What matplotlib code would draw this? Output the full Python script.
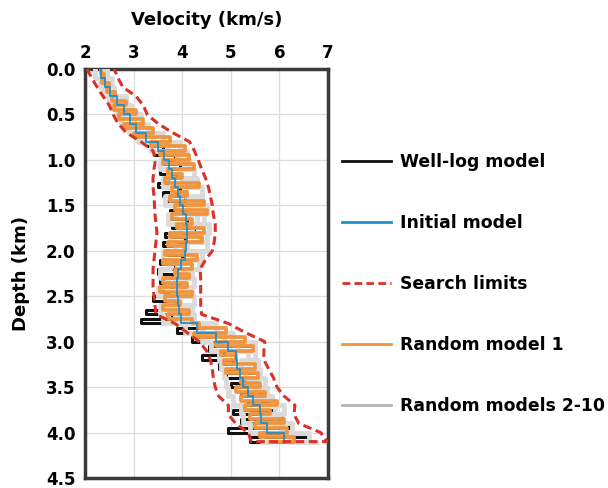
import numpy as np
import matplotlib
matplotlib.use("Agg")
import matplotlib.pyplot as plt
from matplotlib.lines import Line2D

plt.rcParams['font.family'] = ['DejaVu Sans']
plt.rcParams['font.weight'] = 'bold'

# depth grids (km)
z_fine = np.round(np.arange(0.0, 4.101, 0.05), 2)   # 83 layers
z_coarse = np.round(np.arange(0.0, 4.101, 0.1), 1)  # 42 layers
z_log = np.round(np.arange(0.80, 4.101, 0.05), 2)   # well log starts at 0.8 km

# search limits (km/s), on z_coarse
lower_lim = [2.04, 2.14, 2.25, 2.37, 2.50, 2.58, 2.68, 2.85, 3.15, 3.40,
             3.45, 3.42, 3.40, 3.40, 3.42, 3.43, 3.44, 3.46, 3.48, 3.46,
             3.44, 3.42, 3.40, 3.40, 3.40, 3.42, 3.44, 3.46, 3.85, 4.10,
             4.35, 4.50, 4.58, 4.62, 4.64, 4.68, 4.75, 4.95, 4.95, 5.10,
             5.36, 5.42]
upper_lim = [2.60, 2.68, 2.78, 3.05, 3.20, 3.28, 3.50, 3.80, 4.15, 4.25,
             4.33, 4.40, 4.48, 4.54, 4.58, 4.62, 4.64, 4.68, 4.68, 4.66,
             4.62, 4.48, 4.37, 4.38, 4.38, 4.38, 4.38, 4.40, 4.95, 5.30,
             5.70, 5.68, 5.68, 5.78, 5.88, 5.95, 6.10, 6.32, 6.30, 6.40,
             6.85, 6.98]

# initial model, on z_coarse
initial = [2.32, 2.42, 2.52, 2.65, 2.80, 2.92, 3.05, 3.25, 3.50, 3.62,
           3.72, 3.80, 3.85, 3.92, 3.96, 4.02, 4.08, 4.10, 4.10, 4.08,
           4.05, 3.98, 3.92, 3.90, 3.90, 3.92, 3.94, 3.98, 4.30, 4.70,
           4.95, 5.10, 5.12, 5.18, 5.25, 5.35, 5.45, 5.60, 5.62, 5.75,
           6.10, 6.20]

# well-log model, on z_log
well_log = [3.30, 3.60, 3.45, 3.85, 3.60, 3.95, 3.55, 3.90, 3.70, 3.50,
            3.95, 3.60, 4.05, 3.65, 4.15, 3.75, 3.70, 4.10, 3.80, 4.25,
            3.65, 4.05, 3.60, 3.85, 3.70, 4.00, 3.55, 3.85, 3.50, 3.80,
            3.55, 3.95, 3.60, 3.70, 3.40, 3.90, 3.55, 3.25, 3.80, 3.15,
            4.45, 3.90, 4.60, 4.20, 5.40, 4.55, 4.85, 4.40, 5.05, 4.75,
            5.45, 4.90, 5.30, 5.00, 5.75, 5.20, 5.85, 5.35, 5.90, 5.05,
            6.05, 5.20, 6.20, 4.95, 6.60, 5.40, 6.10]

# random model 1, on z_fine
random1 = [2.32, 2.40, 2.36, 2.50, 2.45, 2.62, 2.55, 2.85, 2.60, 3.05,
           2.70, 3.20, 2.80, 3.40, 3.00, 3.75, 3.35, 4.05, 3.55, 4.15,
           3.60, 4.25, 3.70, 4.00, 3.65, 4.35, 3.80, 4.10, 3.75, 4.45,
           3.85, 4.50, 3.80, 4.20, 3.90, 4.45, 3.75, 4.40, 3.70, 4.05,
           3.65, 4.30, 3.60, 4.20, 3.85, 4.15, 3.60, 4.10, 3.55, 4.20,
           3.65, 3.95, 3.60, 4.15, 3.70, 4.20, 4.35, 4.90, 4.25, 5.30,
           4.70, 5.45, 4.80, 5.10, 4.85, 5.50, 4.90, 5.55, 5.20, 5.60,
           5.10, 5.70, 5.20, 5.95, 5.30, 5.80, 5.40, 6.10, 5.50, 6.15,
           5.60, 6.30, 5.80]

# random models 2-10 (three shown), on z_coarse
random_a = [2.45, 2.55, 2.60, 2.85, 2.95, 3.15, 3.30, 3.60, 3.95, 4.10,
            4.05, 4.25, 4.10, 4.40, 4.20, 4.50, 4.30, 4.55, 4.35, 4.50,
            4.20, 4.35, 4.00, 4.25, 3.95, 4.25, 4.00, 4.25, 4.70, 5.05,
            5.50, 5.35, 5.55, 5.30, 5.70, 5.50, 5.85, 6.10, 5.90, 6.25,
            6.60, 6.75]
random_b = [2.20, 2.30, 2.40, 2.50, 2.65, 2.75, 2.90, 3.10, 3.35, 3.60,
            3.55, 3.70, 3.60, 3.80, 3.65, 3.90, 3.70, 3.95, 3.75, 3.85,
            3.60, 3.75, 3.55, 3.70, 3.50, 3.75, 3.55, 3.60, 4.05, 4.40,
            4.60, 4.75, 4.80, 4.85, 4.90, 4.95, 5.05, 5.20, 5.25, 5.40,
            5.65, 5.80]
random_c = [2.35, 2.50, 2.48, 2.70, 2.80, 3.00, 3.10, 3.40, 3.70, 3.90,
            4.15, 3.95, 4.30, 4.05, 4.40, 4.15, 4.45, 4.20, 4.50, 4.10,
            4.40, 3.90, 4.20, 3.85, 4.20, 3.80, 4.20, 3.85, 4.40, 4.85,
            5.15, 5.50, 5.20, 5.60, 5.40, 5.75, 5.55, 5.90, 5.60, 6.05,
            6.20, 6.50]

c_black = '#111111'
c_blue = '#1f8fcc'
c_red = '#d8322a'
c_orange = '#f0953f'
c_gray = '#dadada'
dash = (0, (2.8, 1.5))

fig = plt.figure(figsize=(6.08, 4.88), dpi=100)
ax = fig.add_axes([85 / 608, 1 - 478 / 488, 243 / 608, 409 / 488])

ax.plot(well_log, z_log, drawstyle='steps-pre', color=c_black, lw=2.2, zorder=2)
for rm in (random_a, random_b, random_c):
    ax.plot(rm, z_coarse, drawstyle='steps-pre', color=c_gray, lw=3.5, zorder=3)
ax.plot(random1, z_fine, drawstyle='steps-pre', color=c_orange, lw=2.7, zorder=4)
ax.plot(initial, z_coarse, drawstyle='steps-pre', color=c_blue, lw=1.3, zorder=5)

# search limits: left edge down, right edge back up (closed at the bottom)
lim_v = list(lower_lim) + list(upper_lim[::-1])
lim_z = list(z_coarse) + list(z_coarse[::-1])
ax.plot(lim_v, lim_z, color=c_red, lw=2.2, ls=dash, zorder=6)

ax.set_xlim(2, 7)
ax.set_ylim(4.5, 0)
ax.set_xticks(range(2, 8))
ax.set_yticks(np.arange(0, 4.51, 0.5))
ax.set_yticklabels([f'{t:.1f}' for t in np.arange(0, 4.51, 0.5)])
ax.xaxis.tick_top()
ax.xaxis.set_label_position('top')
ax.tick_params(length=0, labelsize=12)
ax.tick_params(axis='x', pad=5)
ax.tick_params(axis='y', pad=7)
ax.set_xlabel('Velocity (km/s)', fontsize=13, fontweight='bold', labelpad=14)
ax.set_ylabel('Depth (km)', fontsize=13, fontweight='bold', labelpad=11)
ax.grid(True, color='#dddddd', lw=0.9)
ax.set_axisbelow(True)
for sp in ax.spines.values():
    sp.set_linewidth(2.5)
    sp.set_color('#3a3a3a')

handles = [
    Line2D([], [], color=c_black, lw=2),
    Line2D([], [], color=c_blue, lw=2),
    Line2D([], [], color=c_red, lw=2, ls=dash),
    Line2D([], [], color=c_orange, lw=2),
    Line2D([], [], color='#b4b4b4', lw=2),
]
labels = ['Well-log model', 'Initial model', 'Search limits',
          'Random model 1', 'Random models 2-10']
fig.legend(handles, labels, loc='upper left', bbox_to_anchor=(342 / 608, 1 - 153 / 488),
           frameon=False, borderpad=0, borderaxespad=0, prop={'size': 12.4, 'weight': 'bold'},
           handlelength=2.85, handletextpad=0.5, labelspacing=2.5)

fig.savefig('out.png', dpi=100)
